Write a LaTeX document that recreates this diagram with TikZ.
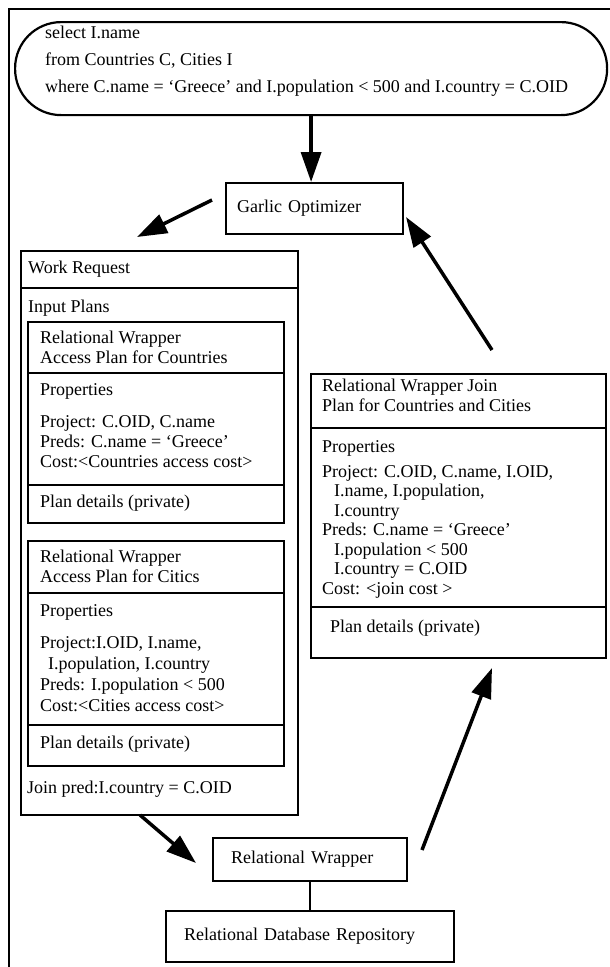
\documentclass[tikz,border=0pt]{standalone}
\usepackage{fontspec}
\setmainfont{Liberation Serif}
\usetikzlibrary{arrows.meta}

\begin{document}
\begin{tikzpicture}
[
	x=1pt, y=-1pt,
	every node/.style={font=\fontsize{18}{20}\selectfont},
	box/.style={draw, line width=2.2pt, inner sep=0pt, anchor=north west},
	txt/.style={anchor=north west, inner sep=0pt, align=left},
	sepline/.style={line width=1.8pt},
	bigarrow/.style={line width=3.5pt, -{Triangle[length=30pt,width=20pt]}}
]

	\useasboundingbox (0,0) rectangle (610,967);

	% frame
	\draw[line width=2pt] (9,967) -- (9,9) -- (610,9);

	% query
	\node[box, rounded corners=46pt, minimum width=592pt, minimum height=93pt] (query) at (14,21) {};
	\node[txt, font=\fontsize{18}{27}\selectfont] (querytext) at (45,26)
		{select I.name\\from Countries C, Cities I\\where C.name = `Greece' and I.population < 500 and I.country = C.OID};

	% optimizer
	\node[box, text width=155pt, inner xsep=11pt, minimum height=51pt, align=left] (optimizer) at (225,182) {Garlic Optimizer};
	\draw[bigarrow] (query.south) -- (query.south |- optimizer.north);

	% work request
	\node[box, minimum width=277pt, minimum height=564pt] (workreq) at (20,250) {};
	\draw[sepline] (20,288) -- (297,288);
	\node[txt] (reqtitle) at (28,261) {Work Request};
	\node[txt] (inputs) at (28,300) {Input Plans};

	% access plan, countries
	\node[box, minimum width=256pt, minimum height=201pt] (planA) at (27,321) {};
	\draw[sepline] (27,373) -- (283,373);
	\draw[sepline] (27,485) -- (283,485);
	\node[txt] (planAhead) at (40,331) {Relational Wrapper\\Access Plan for Countries};
	\node[txt] (planAprops) at (40,383) {Properties};
	\node[txt] (planAbody) at (40,415) {Project: C.OID, C.name\\Preds: C.name = `Greece'\\Cost:<Countries access cost>};
	\node[txt] (planAdetails) at (40,495) {Plan details (private)};

	% access plan, cities
	\node[box, minimum width=256pt, minimum height=225pt] (planB) at (27,540) {};
	\draw[sepline] (27,593) -- (283,593);
	\draw[sepline] (27,725) -- (283,725);
	\node[txt] (planBhead) at (40,550) {Relational Wrapper\\Access Plan for Citics};
	\node[txt, font=\fontsize{18}{21}\selectfont] (planBprops) at (40,604) {Properties};
	\node[txt, font=\fontsize{18}{21}\selectfont] (planBbody) at (40,636)
		{Project:I.OID, I.name,\\\hspace*{8pt}I.population, I.country\\Preds: I.population < 500\\Cost:<Cities access cost>};
	\node[txt] (planBdetails) at (40,736) {Plan details (private)};

	\node[txt] (joinpred) at (27,781) {Join pred:I.country = C.OID};

	% join plan
	\node[box, minimum width=295pt, minimum height=284pt] (joinplan) at (310,373) {};
	\draw[sepline] (310,428) -- (605,428);
	\draw[sepline] (310,607) -- (605,607);
	\node[txt] (joinhead) at (322,379) {Relational Wrapper Join\\Plan for Countries and Cities};
	\node[txt] (joinprops) at (322,440) {Properties};
	\node[txt, font=\fontsize{18}{19.5}\selectfont] (joinbody) at (322,465)
		{Project: C.OID, C.name, I.OID,\\\hspace*{12pt}I.name, I.population,\\\hspace*{12pt}I.country\\Preds: C.name = `Greece'\\\hspace*{12pt}I.population < 500\\\hspace*{12pt}I.country = C.OID\\Cost: <join cost >};
	\node[txt] (joindetails) at (330,620) {Plan details (private)};

	% wrapper and repository
	\node[box, text width=158pt, inner xsep=18pt, minimum height=43pt, align=left] (wrapper) at (212,837) {Relational Wrapper};
	\node[box, text width=252pt, inner xsep=18pt, minimum height=51pt, align=left] (repository) at (165,910) {Relational Database Repository};
	\draw[line width=2.2pt] (wrapper.south) -- (wrapper.south |- repository.north);

	% flow
	\coordinate (reqfrom) at (212,200);
	\coordinate (reqto) at (137,237);
	\coordinate (wrapfrom) at (140,815);
	\coordinate (wrapto) at (196,863);
	\coordinate (joinfrom) at (422,850);
	\coordinate (jointo) at (492,668);
	\coordinate (optfrom) at (492,350);
	\coordinate (optto) at (406,217);
	\draw[bigarrow] (reqfrom) -- (reqto);
	\draw[bigarrow] (wrapfrom) -- (wrapto);
	\draw[bigarrow] (joinfrom) -- (jointo);
	\draw[bigarrow] (optfrom) -- (optto);

\end{tikzpicture}
\end{document}
